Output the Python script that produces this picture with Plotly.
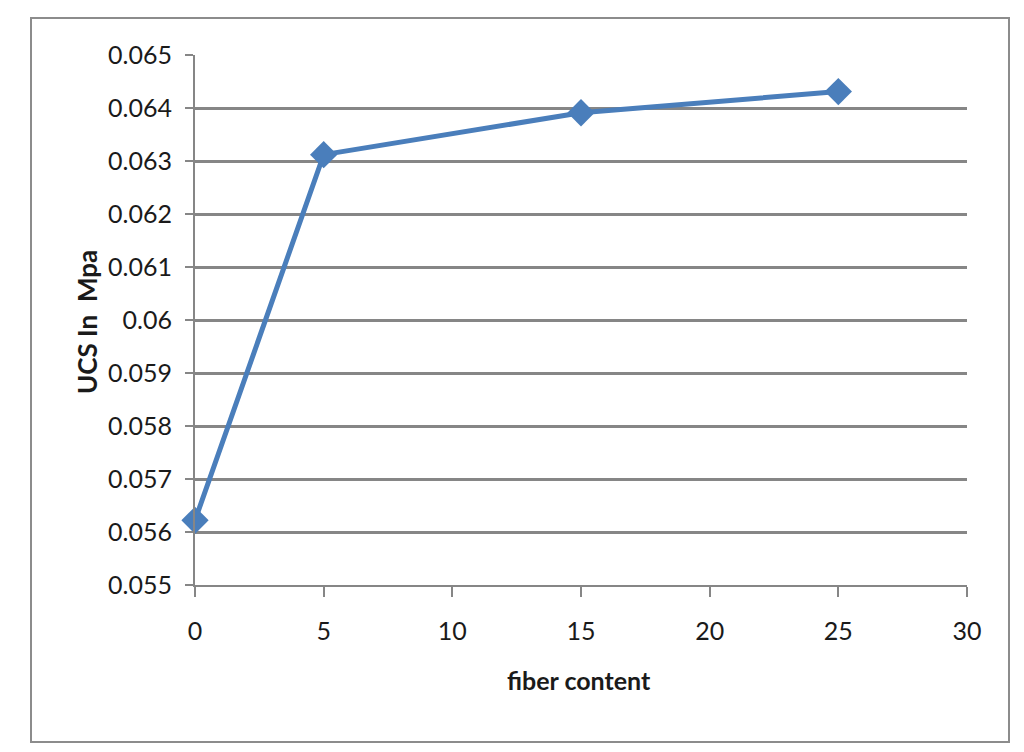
import plotly.graph_objects as go

fiber_content = [0, 5, 15, 25]
ucs_mpa = [0.05622, 0.06312, 0.06391, 0.06431]

x_ticks = [0, 5, 10, 15, 20, 25, 30]
y_ticks = [0.055, 0.056, 0.057, 0.058, 0.059, 0.06, 0.061, 0.062, 0.063, 0.064, 0.065]
y_tick_labels = ["0.055", "0.056", "0.057", "0.058", "0.059", "0.06", "0.061", "0.062", "0.063", "0.064", "0.065"]

BLUE = "#4A7EBB"
GRID = "#868686"
FONT = "Lato"
TXT = "#1a1a1a"

# page body has an 8px margin, so the figure is placed at (8, 8)
OFF = 8
W, H = 1008, 736
L, R, T, B = 195 - OFF, W - (967 - OFF), 55 - OFF, H - (585 - OFF)
pw, ph = W - L - R, H - T - B


def px_x(x):
    return (x - OFF - L) / pw


def px_y(y):
    return (H - B - (y - OFF)) / ph


fig = go.Figure()
fig.add_trace(go.Scatter(
    x=fiber_content, y=ucs_mpa, mode="lines+markers",
    line=dict(color=BLUE, width=5),
    marker=dict(symbol="diamond", size=21, color=BLUE),
    showlegend=False, cliponaxis=False,
))

fig.update_layout(
    width=W, height=H,
    margin=dict(l=L, r=R, t=T, b=B),
    paper_bgcolor="white", plot_bgcolor="white",
    font=dict(family=FONT, size=25, color=TXT),
    xaxis=dict(range=[0, 30], tickvals=x_ticks, ticktext=[str(v) for v in x_ticks],
               showgrid=False, zeroline=False, showline=True, linecolor=GRID, linewidth=2,
               ticks="outside", ticklen=10, tickwidth=2, tickcolor=GRID,
               ticklabelstandoff=13,
               tickfont=dict(family=FONT, size=25, color=TXT)),
    yaxis=dict(range=[0.055, 0.065], tickvals=y_ticks, ticktext=y_tick_labels,
               showgrid=True, gridcolor=GRID, gridwidth=3, zeroline=False,
               showline=True, linecolor=GRID, linewidth=2,
               ticks="outside", ticklen=8, tickwidth=2, tickcolor=GRID,
               ticklabelstandoff=8,
               tickfont=dict(family=FONT, size=25, color=TXT)),
    shapes=[dict(type="rect", xref="paper", yref="paper",
                 x0=px_x(31), x1=px_x(1009),
                 y0=px_y(742), y1=px_y(18),
                 line=dict(color="#8c8c8c", width=2), fillcolor="rgba(0,0,0,0)", layer="below")],
    annotations=[
        dict(text="<b>fiber content</b>", xref="paper", yref="paper",
             x=px_x(579), y=px_y(680), showarrow=False,
             xanchor="center", yanchor="middle", font=dict(family=FONT, size=25, color=TXT)),
        dict(text="<b>UCS In  Mpa</b>", xref="paper", yref="paper",
             x=px_x(87), y=px_y(322), showarrow=False, textangle=-90,
             xanchor="center", yanchor="middle", font=dict(family=FONT, size=26, color=TXT)),
    ],
)

fig.write_html("out.html")
